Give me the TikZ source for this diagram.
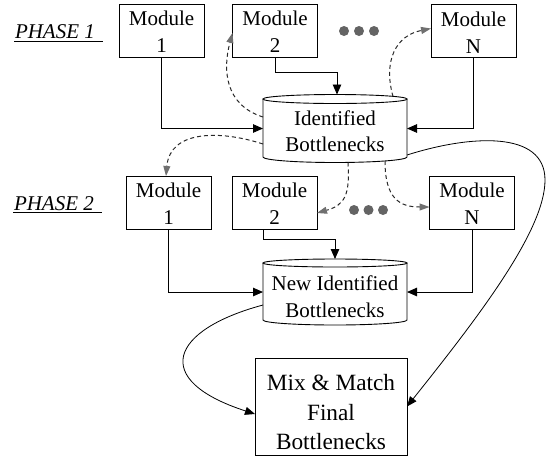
\documentclass[tikz,border=0pt]{standalone}
\usepackage{fontspec}
\setmainfont{Liberation Serif}
\usetikzlibrary{arrows.meta}
\definecolor{dotgray}{RGB}{100,100,100}
\definecolor{dashgray}{RGB}{40,40,40}
\definecolor{tipgray}{RGB}{112,112,112}
% invisible strut that sets the height of a node's first line
\newcommand\lift[1]{\rule{0pt}{#1pt}}

\begin{document}
\begin{tikzpicture}[x=1pt,y=-1pt,
  every node/.style={inner sep=0pt, outer sep=0pt},
  modbox/.style={draw, line width=0.9pt, minimum width=85pt, minimum height=53pt,
    align=center, font=\fontsize{21}{27.3}\selectfont},
  drum/.style={minimum width=144pt, align=center, font=\fontsize{21}{26.5}\selectfont},
  finalbox/.style={draw, line width=0.9pt, minimum width=152pt, minimum height=97pt,
    align=center, font=\fontsize{23.3}{29.5}\selectfont},
  phase/.style={anchor=base west, font=\fontsize{21}{25}\selectfont\itshape},
  uline/.style={line width=1.3pt},
  outline/.style={line width=0.9pt},
  link/.style={line width=0.9pt, -{Triangle[length=10pt,width=8.5pt]}},
  feed/.style={line width=1pt, dashgray, dash pattern=on 4pt off 3pt,
    -{Triangle[length=10pt,width=7pt,color=tipgray]}},
  curve/.style={line width=0.8pt, -{Triangle[length=10pt,width=8pt]}},
  dot/.style={circle, fill=dotgray, minimum size=10pt},
]
\useasboundingbox (0,0) rectangle (551,456);

% phase headings
\node[phase] (p1) at (15,38.3) {PHASE 1};
\node[phase] (p2) at (14,210) {PHASE 2};
\draw[uline] ([xshift=-1pt,yshift=-3.2pt]p1.base west) -- ([xshift=8pt,yshift=-3.2pt]p1.base east);
\draw[uline] ([xshift=-1pt,yshift=-2.6pt]p2.base west) -- ([xshift=8pt,yshift=-2.6pt]p2.base east);

% modules, first phase
\node[modbox] (m11) at (161.5,30.5) {\lift{17.5}Module\\1};
\node[modbox] (m12) at (275,30.5)   {\lift{17.5}Module\\2};
\node[modbox] (m1N) at (473.5,31)   {\lift{17.5}Module\\N};
\node[dot] (a1) at (344,31) {};
\node[dot] (a2) at (359,31) {};
\node[dot] (a3) at (374,31) {};

% modules, second phase
\node[modbox] (m21) at (168.5,202.5) {\lift{17.5}Module\\1};
\node[modbox] (m22) at (274.5,202.5) {\lift{17.5}Module\\2};
\node[modbox] (m2N) at (472,202.5)   {\lift{17.5}Module\\N};
\node[dot] (b1) at (354,210) {};
\node[dot] (b2) at (368.5,210) {};
\node[dot] (b3) at (383,210) {};

% bottleneck stores
\node[drum, minimum height=68pt] (c1) at (335,128.5) {\lift{19.7}Identified\\Bottlenecks};
\node[drum, minimum height=66pt] (c2) at (335,292)   {\lift{23.9}New Identified\\Bottlenecks};
\draw[outline] ([yshift=-4.5pt]c1.north west) -- ([yshift=5.5pt]c1.south west)
  arc[start angle=180, end angle=360, x radius=72pt, y radius=5.5pt]
  -- ([yshift=-4.5pt]c1.north east);
\draw[outline] ([yshift=-4.5pt]c1.north) ellipse[x radius=72pt, y radius=4.5pt];
\draw[outline] ([yshift=-4pt]c2.north west) -- ([yshift=5pt]c2.south west)
  arc[start angle=180, end angle=360, x radius=72pt, y radius=5pt]
  -- ([yshift=-4pt]c2.north east);
\draw[outline] ([yshift=-4pt]c2.north) ellipse[x radius=72pt, y radius=4pt];

% final result
\node[finalbox] (mix) at (331,406.5) {\lift{28}Mix \& Match\\Final\\Bottlenecks};

% module outputs into the stores
\draw[link] (m11.south) |- (c1.west);
\draw[link] (m12.south) -- ++(0,15.5) -| ([xshift=2pt]c1.north);
\draw[link] (m1N.south) |- (c1.east);
\draw[link] (m21.south) |- (c2.west);
\draw[link] ([xshift=-11.5pt]m22.south) -- ++(0,10) -| (c2.north);
\draw[link] (m2N.south) |- (c2.east);

% feedback of identified bottlenecks to the modules
\draw[feed] ([yshift=11.5pt]c1.west) .. controls +(-38,-12) and +(-10,37) .. ([yshift=-2.5pt]m12.west);
\draw[feed] ([xshift=58pt,yshift=-2pt]c1.north) .. controls +(-10,-36) and +(-35,7) .. ([yshift=2.5pt]m1N.west);
\draw[feed] ([yshift=-15.5pt]c1.west) .. controls +(-43,-14) and +(4,-46) .. ([xshift=-2.5pt]m21.north);
\draw[feed] ([xshift=13pt]c1.south) .. controls +(2,32.5) and +(28,-8) .. ([yshift=-10.5pt]m22.east);
\draw[feed] ([xshift=50pt,yshift=1.5pt]c1.south) .. controls +(0,37.5) and +(-30,0) .. ([yshift=-4.5pt]m2N.west);

% both stores merge into the final list
\coordinate (bend) at (545,180);
\draw[curve] ([yshift=-26.5pt]c1.east) .. controls +(63,-20) and +(0,-50) .. (bend)
  .. controls +(0,50) and +(73,-91.5) .. (mix.east);
\draw[curve] ([yshift=-13pt]c2.west) .. controls +(-93,25) and +(-105,-34) .. ([yshift=-7.5pt]mix.west);
\end{tikzpicture}
\end{document}
